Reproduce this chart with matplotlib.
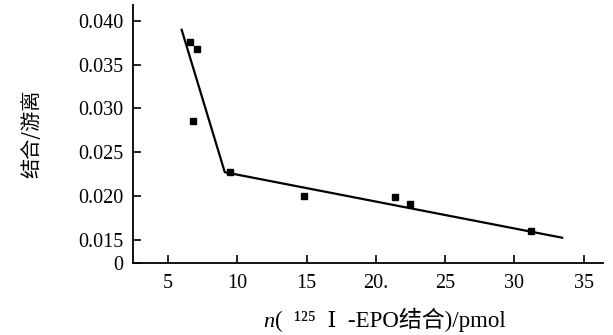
import matplotlib
matplotlib.use("Agg")
import matplotlib.pyplot as plt

# 数据点 (n, 结合/游离)
n_pts = [6.58, 7.11, 6.78, 9.51, 14.8, 21.4, 22.46, 31.2]
ratio_pts = [0.03757, 0.03677, 0.02858, 0.0228, 0.0200, 0.01987, 0.01908, 0.01603]

# 拟合折线
n_line = [5.99, 9.10, 33.44]
ratio_line = [0.03897, 0.02273, 0.01526]

yticks = [0.015, 0.020, 0.025, 0.030, 0.035, 0.040]
ytick_labels = ['0.015', '0.020', '0.025', '0.030', '0.035', '0.040']
xticks = [5, 10, 15, 20, 25, 30, 35]
xtick_labels = ['5', '10', '15', '20.', '25', '30', '35']

serif = ['Liberation Serif', 'DejaVu Serif', 'Noto Sans CJK SC']
plt.rcParams['font.family'] = serif

fig = plt.figure(figsize=(6.13, 3.35), dpi=100)
ax = fig.add_axes([0.217, 0.215, 0.767, 0.77])

ax.plot(n_line, ratio_line, color='black', lw=1.6)
ax.plot(n_pts, ratio_pts, 's', color='black', ms=5)

# y 轴断开: 底部标 0
y0 = 0.01238
ax.set_ylim(y0, 0.0418)
ax.set_xlim(2.48, 36.4)
ax.set_yticks([y0] + yticks)
ax.set_yticklabels(['0'] + ytick_labels)
ax.set_xticks(xticks)
ax.set_xticklabels(xtick_labels)
ax.tick_params(direction='in', length=6, width=1.2, labelsize=14.5, pad=7)
ax.tick_params(axis='x', pad=8)

for s in ['top', 'right']:
    ax.spines[s].set_visible(False)
for s in ['left', 'bottom']:
    ax.spines[s].set_linewidth(1.3)

ax.set_ylabel('结合/游离', family=['Noto Sans CJK SC'], fontsize=14.5, labelpad=26)

# x 轴标题: 斜体 n + 其余部分
t1 = fig.text(0.43, 0.025, 'n', fontsize=16, style='italic', family=serif, va='baseline')
ax.annotate('(  ¹²⁵  Ⅰ  -EPO结合)/pmol', xy=(1, 0), xycoords=t1, va='bottom', ha='left',
            fontsize=16.5, family=serif)

fig.savefig('out.png', dpi=100)
